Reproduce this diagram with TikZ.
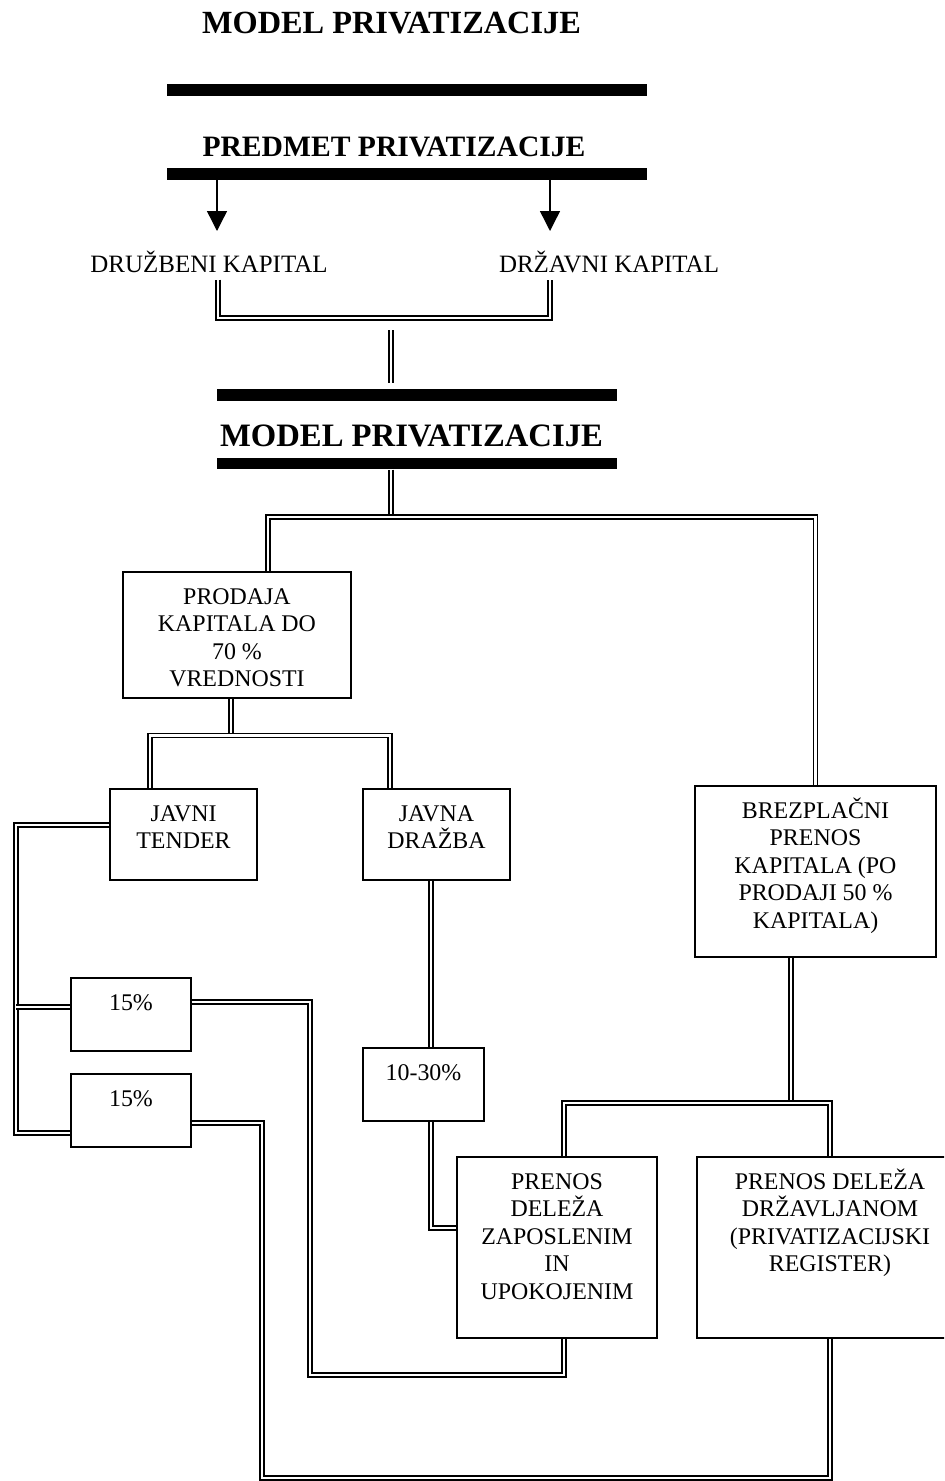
\documentclass[tikz,border=0pt]{standalone}
\usepackage{fontspec}
\setmainfont{Liberation Serif}
\usepackage{tikz}
\usetikzlibrary{arrows.meta}

\newcommand{\prva}{\rule{0pt}{1em}}

\begin{document}
\begin{tikzpicture}[
  x=0.02cm, y=-0.02cm,
  bar/.style={fill=black,inner sep=0pt,minimum height=0.23cm},
  box/.style={draw,line width=0.9pt,inner sep=0pt},
  txt/.style={align=center,inner sep=0pt,anchor=north,font=\fontsize{13.6}{15.6}\selectfont},
  lbl/.style={inner sep=4pt,anchor=base,font=\fontsize{14.2}{16}\selectfont},
  ttl/.style={inner sep=0pt,anchor=base,font=\fontsize{18.4}{21}\selectfont\bfseries},
  dbl/.style={double,double distance=1.4pt,line width=0.9pt},
  arr/.style={line width=0.8pt,-{Triangle[width=0.4cm,length=0.4cm]}}
]
  \useasboundingbox (0,0) rectangle (944,1481);
  \clip (0,0) rectangle (944,1481);

  % naslov in predmet
  \node[ttl] (naslov) at (391.5,33) {MODEL PRIVATIZACIJE};
  \node[bar,minimum width=9.6cm] (bar1) at (407,90) {};
  \node[ttl,font=\fontsize{16.85}{19}\selectfont\bfseries] (predmet) at (394,156) {PREDMET PRIVATIZACIJE};
  \node[bar,minimum width=9.6cm] (bar2) at (407,174) {};

  \node[lbl] (druzbeni) at (209,272) {DRUŽBENI KAPITAL};
  \node[lbl] (drzavni) at (609,272) {DRŽAVNI KAPITAL};

  \node[bar,minimum width=8cm] (bar3) at (417,395) {};
  \node[ttl,font=\fontsize{18.6}{21}\selectfont\bfseries] (model) at (411.5,446) {MODEL PRIVATIZACIJE};
  \node[bar,minimum width=8cm] (bar4) at (417,463.5) {};

  % okvirji
  \node[box,minimum width=4.56cm,minimum height=2.52cm] (prodaja) at (237,635) {};
  \node[box,minimum width=2.94cm,minimum height=1.82cm] (tender) at (183.5,834.5) {};
  \node[box,minimum width=2.94cm,minimum height=1.82cm] (drazba) at (436.5,834.5) {};
  \node[box,minimum width=4.82cm,minimum height=3.42cm] (brez) at (815.5,871.5) {};
  \node[box,minimum width=2.4cm,minimum height=1.46cm] (p1) at (131,1014.5) {};
  \node[box,minimum width=2.4cm,minimum height=1.46cm] (p2) at (131,1110.5) {};
  \node[box,minimum width=2.42cm,minimum height=1.46cm] (p3) at (423.5,1084.5) {};
  \node[box,minimum width=4cm,minimum height=3.62cm] (zap) at (557,1247.5) {};
  \node[box,minimum width=5.32cm,minimum height=3.62cm] (drz) at (830,1247.5) {};

  \node[txt] (prodajatxt) at ([yshift=-0.18cm]prodaja.north) {\prva PRODAJA\\KAPITALA DO\\70 \%\\VREDNOSTI};
  \node[txt] (tendertxt) at ([yshift=-0.18cm]tender.north) {\prva JAVNI\\TENDER};
  \node[txt] (drazbatxt) at ([yshift=-0.18cm]drazba.north) {\prva JAVNA\\DRAŽBA};
  \node[txt] (breztxt) at ([yshift=-0.18cm]brez.north) {\prva BREZPLAČNI\\PRENOS\\KAPITALA (PO\\PRODAJI 50 \%\\KAPITALA)};
  \node[txt] (p1txt) at ([yshift=-0.18cm]p1.north) {\prva 15\%};
  \node[txt] (p2txt) at ([yshift=-0.18cm]p2.north) {\prva 15\%};
  \node[txt] (p3txt) at ([yshift=-0.18cm]p3.north) {\prva 10-30\%};
  \node[txt] (zaptxt) at ([yshift=-0.18cm]zap.north) {\prva PRENOS\\DELEŽA\\ZAPOSLENIM\\IN\\UPOKOJENIM};
  \node[txt] (drztxt) at ([yshift=-0.18cm]drz.north) {\prva PRENOS DELEŽA\\DRŽAVLJANOM\\(PRIVATIZACIJSKI\\REGISTER)};

  % tocke za povezave
  \coordinate (a1) at (217,231);
  \coordinate (a2) at (550,231);
  \coordinate (u1) at (218,318);
  \coordinate (u2) at (550,318);
  \coordinate (t1) at (391,330);
  \coordinate (m1) at (391,517);
  \coordinate (m2) at (268,517);
  \coordinate (p0) at (231,735.5);
  \coordinate (c1) at (150,735.5);
  \coordinate (c2) at (390,735.5);
  \coordinate (l1) at (16,825);
  \coordinate (l2) at (16,1133);
  \coordinate (l3) at (16,1007);
  \coordinate (r1) at (310,1002);
  \coordinate (r2) at (564,1375);
  \coordinate (r3) at (262,1123);
  \coordinate (r4) at (830,1478);
  \coordinate (d1) at (431,1228);
  \coordinate (b1) at (791,1103);

  \draw[arr] (bar2.south -| a1) -- (a1);
  \draw[arr] (bar2.south -| a2) -- (a2);
  \draw[dbl] (druzbeni.south -| u1) -- (u1) -- (u2) -- (drzavni.south -| u2);
  \draw[dbl,shorten >=0.12cm] (t1) -- (bar3.north -| t1);

  \draw[dbl] (bar4.south -| m1) -- (m1);
  \draw[dbl] (prodaja.north -| m2) |- (m1) -| (brez.north);
  \draw[dbl] (prodaja.south -| p0) -- (p0);
  \draw[dbl] (tender.north -| c1) -- (c1) -- (c2) -- (drazba.north -| c2);

  \draw[dbl] (tender.west |- l1) -- (l1) -- (l2) -- (p2.west |- l2);
  \draw[dbl] (l3) -- (p1.west |- l3);
  \draw[dbl] (p1.east |- r1) -- (r1) |- (r2) -- (zap.south -| r2);
  \draw[dbl] (p2.east |- r3) -- (r3) |- (r4) -- (drz.south -| r4);

  \draw[dbl] (drazba.south -| d1) -- (p3.north -| d1);
  \draw[dbl] (p3.south -| d1) -- (d1) -- (zap.west |- d1);
  \draw[dbl] (brez.south -| b1) -- (b1);
  \draw[dbl] (zap.north -| r2) |- (b1) -| (drz.north -| r4);
\end{tikzpicture}
\end{document}
